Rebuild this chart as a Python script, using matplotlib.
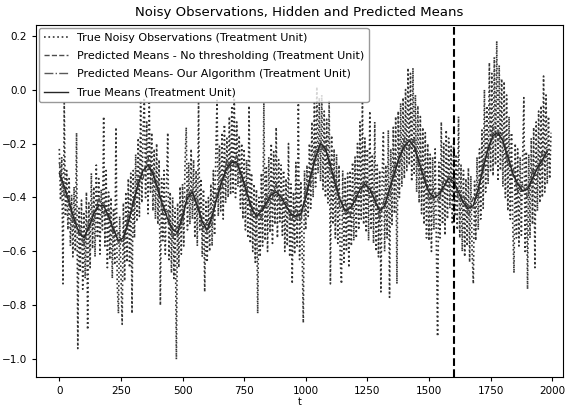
import numpy as np
import matplotlib
matplotlib.use('Agg')
import matplotlib.pyplot as plt

# time index of the noisy observations (every 5th step)
t_obs = np.arange(0, 2000, 5)
noisy_obs = [
    -0.22, -0.41, -0.25, -0.72, -0.05, -0.47, -0.30, -0.52, -0.33, -0.58,
    -0.39, -0.62, -0.36, -0.60, -0.16, -0.96, -0.44, -0.67, -0.41, -0.74,
    -0.46, -0.70, -0.38, -0.89, -0.42, -0.66, -0.31, -0.59, -0.36, -0.62,
    -0.28, -0.55, -0.33, -0.61, -0.37, -0.52, -0.10, -0.58, -0.30, -0.66,
    -0.38, -0.63, -0.40, -0.70, -0.44, -0.65, -0.14, -0.72, -0.83, -0.47,
    -0.68, -0.87, -0.42, -0.71, -0.38, -0.64, -0.33, -0.66, -0.31, -0.83,
    -0.30, -0.55, -0.24, -0.49, -0.18, -0.47, -0.04, -0.42, -0.15, -0.03,
    -0.40, -0.12, -0.46, -0.05, -0.38, -0.16, -0.45, -0.22, -0.48, -0.20,
    -0.50, -0.26, -0.80, -0.33, -0.56, -0.30, -0.61, -0.36, -0.16, -0.63,
    -0.38, -0.68, -0.40, -0.70, -0.44, -1.00, -0.42, -0.66, -0.36, -0.61,
    -0.35, -0.58, -0.28, -0.14, -0.52, -0.27, -0.50, -0.22, -0.48, -0.26,
    -0.55, -0.30, -0.58, -0.05, -0.52, -0.33, -0.62, -0.37, -0.75, -0.41,
    -0.64, -0.40, -0.60, -0.35, -0.58, -0.30, -0.54, -0.24, -0.04, -0.47,
    -0.21, -0.45, -0.16, -0.48, -0.13, -0.42, -0.18, -0.40, -0.10, -0.39,
    -0.06, -0.38, -0.03, -0.40, -0.12, -0.36, -0.17, -0.44, -0.20, -0.48,
    -0.22, -0.52, -0.26, -0.55, -0.06, -0.57, -0.31, -0.60, -0.35, -0.64,
    -0.37, -0.83, -0.40, -0.62, -0.31, -0.58, -0.05, -0.56, -0.29, -0.60,
    -0.25, -0.53, -0.20, -0.57, -0.23, -0.50, -0.14, -0.55, -0.26, -0.49,
    -0.28, -0.54, -0.30, -0.60, -0.33, -0.58, -0.20, -0.62, -0.35, -0.72,
    -0.38, -0.61, -0.27, -0.58, -0.05, -0.63, -0.34, -0.57, -0.865, -0.30,
    -0.52, -0.28, -0.47, -0.20, -0.44, -0.12, -0.40, -0.05, -0.36, 0.01,
    -0.31, -0.03, -0.34, -0.02, -0.37, -0.08, -0.40, -0.11, -0.42, -0.04,
    -0.72, -0.17, -0.50, -0.22, -0.55, -0.24, -0.57, -0.28, -0.63, -0.72,
    -0.30, -0.64, -0.33, -0.60, -0.31, -0.66, -0.30, -0.58, -0.27, -0.56,
    -0.25, -0.55, -0.20, -0.52, -0.12, -0.48, -0.05, -0.50, -0.18, -0.53,
    -0.22, -0.56, -0.08, -0.52, -0.24, -0.57, -0.12, -0.60, -0.28, -0.62,
    -0.30, -0.75, -0.33, -0.16, -0.60, -0.28, -0.55, -0.15, -0.77, -0.22,
    -0.50, -0.14, -0.46, -0.10, -0.72, -0.08, -0.40, -0.05, -0.36, -0.03,
    -0.33, 0.00, -0.30, 0.08, -0.28, 0.06, -0.34, 0.08, -0.31, -0.02,
    -0.38, -0.06, -0.42, -0.10, -0.46, -0.14, -0.50, -0.16, -0.55, -0.20,
    -0.56, -0.24, -0.60, -0.25, -0.52, -0.22, -0.58, -0.915, -0.27, -0.55,
    -0.12, -0.50, -0.20, -0.54, -0.15, -0.48, -0.18, -0.44, -0.21, -0.50,
    -0.20, -0.47, -0.24, -0.52, -0.10, -0.55, -0.28, -0.60, -0.30, -0.62,
    -0.33, -0.58, -0.29, -0.64, -0.32, -0.60, -0.72, -0.34, -0.56, -0.25,
    -0.52, -0.22, -0.48, -0.15, -0.44, 0.00, -0.38, -0.06, -0.35, 0.10,
    -0.30, 0.06, -0.32, 0.12, -0.28, 0.18, -0.34, 0.09, -0.30, 0.04,
    -0.36, 0.03, -0.40, -0.02, -0.45, -0.10, -0.48, -0.16, -0.50, -0.68,
    -0.20, -0.55, -0.22, -0.58, -0.25, -0.54, -0.26, -0.03, -0.60, -0.23,
    -0.74, -0.24, -0.55, -0.18, -0.50, -0.14, -0.66, -0.12, -0.45, -0.08,
    -0.42, -0.06, -0.40, 0.05, -0.38, -0.02, -0.35, -0.10, -0.33, -0.16,
]

# means, every 20th step
t_mean = np.arange(0, 2000, 20)
pred_no_thresh = [
    -0.27, -0.39, -0.40, -0.51, -0.50, -0.58, -0.48, -0.49, -0.40, -0.46,
    -0.44, -0.55, -0.53, -0.58, -0.46, -0.45, -0.32, -0.33, -0.25, -0.34,
    -0.34, -0.46, -0.45, -0.55, -0.50, -0.50, -0.37, -0.41, -0.40, -0.52,
    -0.49, -0.50, -0.37, -0.37, -0.26, -0.30, -0.24, -0.35, -0.35, -0.47,
    -0.44, -0.48, -0.39, -0.42, -0.35, -0.43, -0.40, -0.49, -0.44, -0.49,
    -0.37, -0.35, -0.22, -0.23, -0.19, -0.31, -0.32, -0.44, -0.42, -0.47,
    -0.38, -0.40, -0.32, -0.40, -0.38, -0.48, -0.40, -0.40, -0.28, -0.28,
    -0.18, -0.22, -0.18, -0.30, -0.30, -0.41, -0.37, -0.42, -0.33, -0.36,
    -0.31, -0.41, -0.39, -0.47, -0.40, -0.40, -0.26, -0.25, -0.14, -0.19,
    -0.16, -0.28, -0.28, -0.38, -0.35, -0.40, -0.30, -0.32, -0.23, -0.26,
]
pred_ours = [
    -0.32, -0.35, -0.43, -0.47, -0.54, -0.54, -0.52, -0.45, -0.44, -0.42,
    -0.48, -0.51, -0.57, -0.54, -0.50, -0.41, -0.36, -0.29, -0.29, -0.30,
    -0.38, -0.42, -0.49, -0.51, -0.54, -0.46, -0.41, -0.37, -0.44, -0.48,
    -0.53, -0.46, -0.41, -0.33, -0.30, -0.26, -0.28, -0.31, -0.39, -0.43,
    -0.48, -0.44, -0.43, -0.38, -0.39, -0.39, -0.44, -0.45, -0.48, -0.45,
    -0.41, -0.31, -0.26, -0.19, -0.23, -0.27, -0.36, -0.40, -0.46, -0.43,
    -0.42, -0.36, -0.36, -0.36, -0.42, -0.44, -0.44, -0.36, -0.32, -0.24,
    -0.22, -0.18, -0.22, -0.26, -0.34, -0.37, -0.41, -0.38, -0.37, -0.32,
    -0.35, -0.37, -0.43, -0.43, -0.44, -0.36, -0.30, -0.21, -0.18, -0.15,
    -0.20, -0.24, -0.32, -0.34, -0.38, -0.36, -0.34, -0.28, -0.27, -0.22,
]
true_means = [
    -0.31, -0.36, -0.42, -0.48, -0.53, -0.55, -0.51, -0.46, -0.43, -0.43,
    -0.47, -0.52, -0.56, -0.55, -0.49, -0.42, -0.35, -0.30, -0.28, -0.31,
    -0.37, -0.43, -0.48, -0.52, -0.53, -0.47, -0.40, -0.38, -0.43, -0.49,
    -0.52, -0.47, -0.40, -0.34, -0.29, -0.27, -0.27, -0.32, -0.38, -0.44,
    -0.47, -0.45, -0.42, -0.39, -0.38, -0.40, -0.43, -0.46, -0.47, -0.46,
    -0.40, -0.32, -0.25, -0.20, -0.22, -0.28, -0.35, -0.41, -0.45, -0.44,
    -0.41, -0.37, -0.35, -0.37, -0.41, -0.45, -0.43, -0.37, -0.31, -0.25,
    -0.21, -0.19, -0.21, -0.27, -0.33, -0.38, -0.40, -0.39, -0.36, -0.33,
    -0.34, -0.38, -0.42, -0.44, -0.43, -0.37, -0.29, -0.22, -0.17, -0.16,
    -0.19, -0.25, -0.31, -0.35, -0.375, -0.37, -0.33, -0.29, -0.26, -0.23,
]
intervention_t = 1600

fig = plt.figure(figsize=(5.79, 4.07), dpi=100)
ax = fig.add_axes([0.062, 0.074, 0.910, 0.865])

ax.plot(t_obs, noisy_obs, linestyle=':', color='0.2', lw=1.2,
        label='True Noisy Observations (Treatment Unit)')
ax.plot(t_mean, pred_no_thresh, linestyle='--', color='0.3', lw=1.0,
        label='Predicted Means - No thresholding (Treatment Unit)')
ax.plot(t_mean, pred_ours, linestyle='-.', color='0.35', lw=1.0,
        label='Predicted Means- Our Algorithm (Treatment Unit)')
ax.plot(t_mean, true_means, linestyle='-', color='0.15', lw=1.0,
        label='True Means (Treatment Unit)')
ax.axvline(intervention_t, color='k', linestyle='--', lw=1.5)

ax.set_xlim(-95, 2043)
ax.set_ylim(-1.065, 0.24)
ax.set_xticks([0, 250, 500, 750, 1000, 1250, 1500, 1750, 2000])
ax.set_yticks([-1.0, -0.8, -0.6, -0.4, -0.2, 0.0, 0.2])
ax.tick_params(labelsize=7.5, length=3)
ax.set_title('Noisy Observations, Hidden and Predicted Means', fontsize=9.5)
ax.set_xlabel('t', fontsize=7, labelpad=1)
ax.legend(loc='upper left', fontsize=8, handlelength=2.2,
          labelspacing=0.75, borderaxespad=0.3, edgecolor='0.5')

fig.savefig('out.png')
